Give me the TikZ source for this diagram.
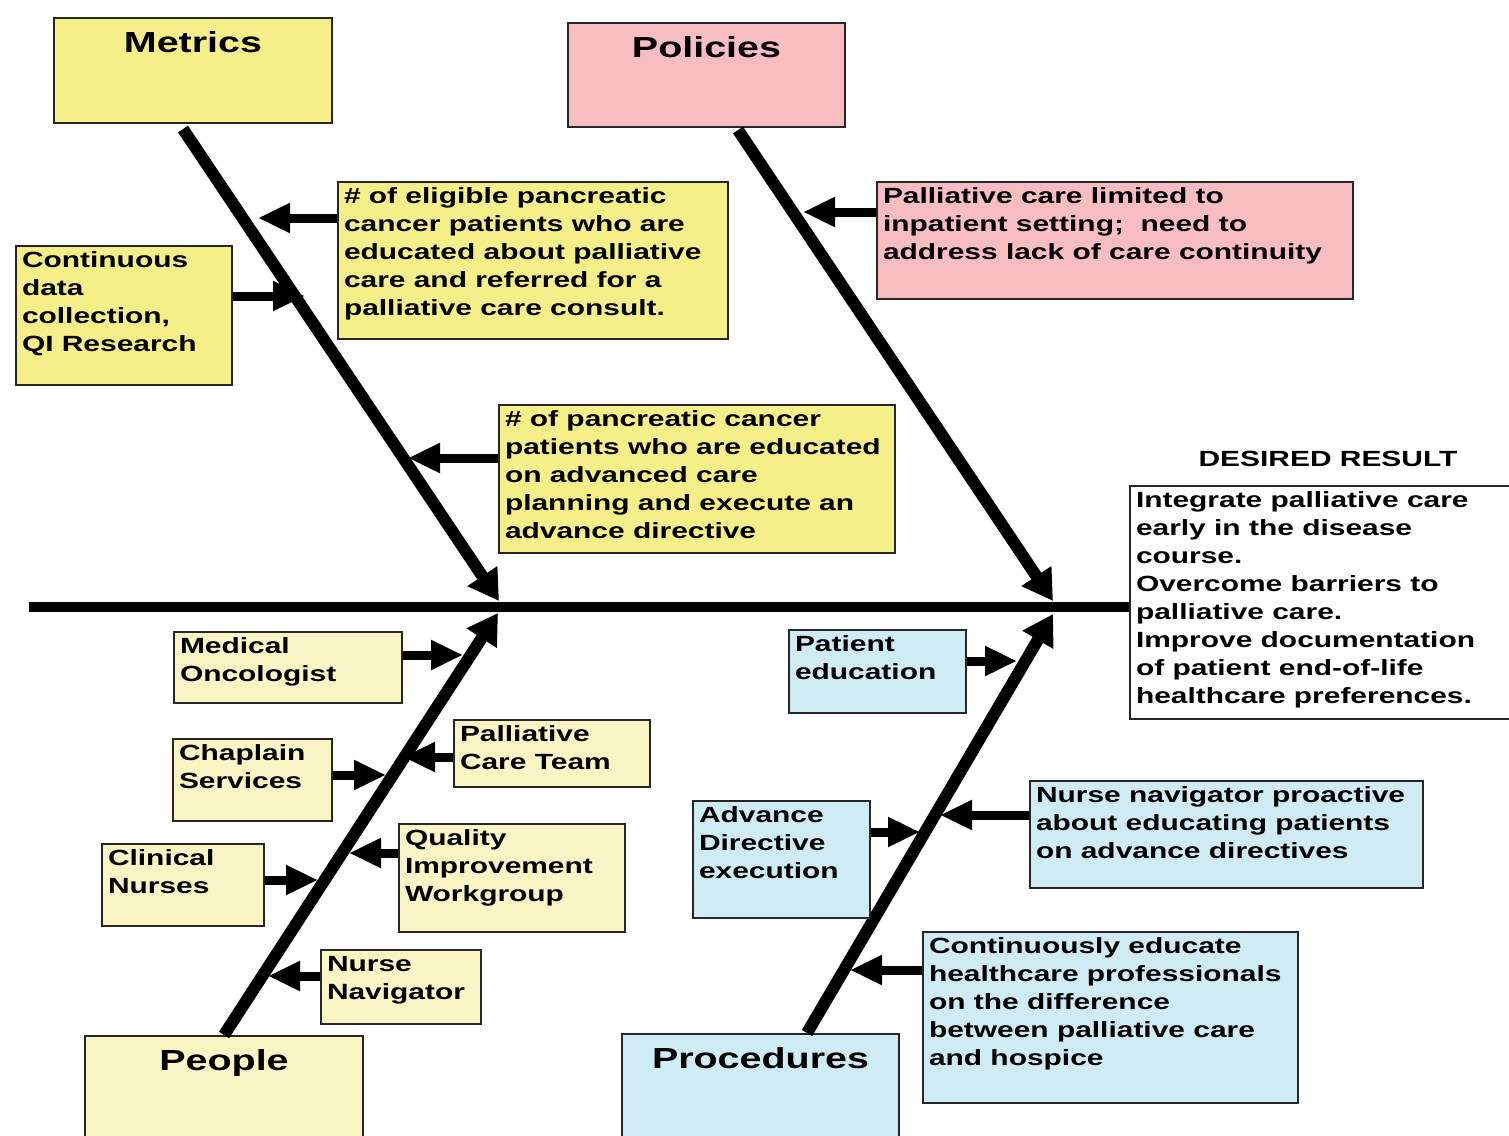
\documentclass[tikz,border=0pt]{standalone}
\usepackage{fontspec}
\setmainfont{Liberation Sans}[FakeStretch=1.36]
\usepackage{tikz}
\usetikzlibrary{arrows.meta}

\definecolor{metricsyellow}{HTML}{F4EF88}
\definecolor{peopleyellow}{HTML}{F9F5C4}
\definecolor{policypink}{HTML}{F8BDC0}
\definecolor{procblue}{HTML}{CFEBF4}

\begin{document}
\begin{tikzpicture}[x=0.5pt, y=-0.5pt,
    box/.style={draw=black!85, line width=1pt, anchor=north west, inner sep=3pt,
        font=\fontsize{11}{14}\selectfont\bfseries},
    headbox/.style={box, font=\fontsize{14.5}{20}\selectfont\bfseries},
    bone/.style={line width=6pt, -{Triangle[length=15pt,width=17pt]}},
    twig/.style={line width=4.5pt, -{Triangle[length=16pt,width=14pt]}}]

\useasboundingbox (0,0) rectangle (1509,1135);

\node[headbox, fill=metricsyellow] (metrics) at (53,17)
    {\parbox[t][46.5pt][t]{133pt}{\centering\strut Metrics}};
\node[headbox, fill=policypink] (policies) at (567,22)
    {\parbox[t][46pt][t]{132.5pt}{\centering\strut Policies}};
\node[headbox, fill=peopleyellow] (people) at (84,1035)
    {\parbox[t][49pt][t]{133pt}{\centering\strut People}};
\node[headbox, fill=procblue] (procedures) at (621,1033)
    {\parbox[t][50pt][t]{132.5pt}{\centering\strut Procedures}};

\node[box, fill=white] (result) at (1129,485)
    {\parbox[t][110.5pt][t]{187pt}{\raggedright Integrate palliative care\\ early in the disease\\ course.\\
    Overcome barriers to\\ palliative care.\\ Improve documentation\\ of patient end-of-life\\ healthcare preferences.}};
\node[font=\fontsize{11}{14}\selectfont\bfseries] (resultlabel) at (1328,459) {DESIRED RESULT};

\coordinate (tail) at (29,607);
\draw[line width=5pt] (tail) -- (tail -| result.west);

\coordinate (mtip) at (499,601);
\coordinate (ptip) at (1053,601);
\coordinate (qtip) at (498,613);
\coordinate (rtip) at (1053,614);

\draw[bone] ([xshift=-5pt,yshift=-2.5pt]metrics.south) -- (mtip);
\draw[bone] ([xshift=15.75pt,yshift=-1pt]policies.south) -- (ptip);
\draw[bone] (people.north) -- (qtip);
\draw[bone] ([xshift=23.25pt]procedures.north) -- (rtip);

\node[box, fill=metricsyellow] (eligible) at (337,181)
    {\parbox[t][72.5pt][t]{189pt}{\raggedright \# of eligible pancreatic\\ cancer patients who are\\ educated about palliative\\ care and referred for a\\ palliative care consult.}};
\node[box, fill=metricsyellow] (datacoll) at (15,245)
    {\parbox[t][63.5pt][t]{102pt}{\raggedright Continuous\\ data\\ collection,\\ QI Research}};
\node[box, fill=metricsyellow] (directive) at (498,404)
    {\parbox[t][68pt][t]{192pt}{\raggedright \# of pancreatic cancer\\ patients who are educated\\ on advanced care\\ planning and execute an\\ advance directive}};

\node[box, fill=policypink] (inpatient) at (876,181)
    {\parbox[t][52.5pt][t]{232pt}{\raggedright Palliative care limited to\\ inpatient setting;\ \ need to\\ address lack of care continuity}};

\node[box, fill=peopleyellow] (oncologist) at (173,631)
    {\parbox[t][29.5pt][t]{108pt}{\raggedright Medical\\ Oncologist}};
\node[box, fill=peopleyellow] (chaplain) at (172,738)
    {\parbox[t][35pt][t]{73.5pt}{\raggedright Chaplain\\ Services}};
\node[box, fill=peopleyellow] (pcteam) at (453,719)
    {\parbox[t][27.5pt][t]{92pt}{\raggedright Palliative\\ Care Team}};
\node[box, fill=peopleyellow] (clinical) at (101,843)
    {\parbox[t][35pt][t]{75pt}{\raggedright Clinical\\ Nurses}};
\node[box, fill=peopleyellow] (qiwork) at (398,823)
    {\parbox[t][48pt][t]{107pt}{\raggedright Quality\\ Improvement\\ Workgroup}};
\node[box, fill=peopleyellow] (navigator) at (320,949)
    {\parbox[t][31pt][t]{74pt}{\raggedright Nurse\\ Navigator}};

\node[box, fill=procblue] (pateduc) at (788,629)
    {\parbox[t][35.5pt][t]{82.5pt}{\raggedright Patient\\ education}};
\node[box, fill=procblue] (adexec) at (692,800)
    {\parbox[t][52.5pt][t]{82.5pt}{\raggedright Advance\\ Directive\\ execution}};
\node[box, fill=procblue] (proactive) at (1029,780)
    {\parbox[t][47.5pt][t]{190.5pt}{\raggedright Nurse navigator proactive\\ about educating patients\\ on advance directives}};
\node[box, fill=procblue] (hospice) at (922,931)
    {\parbox[t][79.5pt][t]{181.5pt}{\raggedright Continuously educate\\ healthcare professionals\\ on the difference\\ between palliative care\\ and hospice}};

\coordinate (m1) at (258,218);
\coordinate (m2) at (305,296);
\coordinate (m3) at (408,458);
\coordinate (p1) at (803,212);
\coordinate (q1) at (463,655);
\coordinate (q2) at (386,775);
\coordinate (q3) at (403,757);
\coordinate (q4) at (318,880);
\coordinate (q5) at (349,853);
\coordinate (q6) at (268,976);
\coordinate (r1) at (1017,661);
\coordinate (r2) at (920,832);
\coordinate (r3) at (940,815);
\coordinate (r4) at (850,970);

\draw[twig] (eligible.west |- m1) -- (m1);
\draw[twig] (datacoll.east |- m2) -- (m2);
\draw[twig] (directive.west |- m3) -- (m3);
\draw[twig] (inpatient.west |- p1) -- (p1);
\draw[twig] (oncologist.east |- q1) -- (q1);
\draw[twig] (chaplain.east |- q2) -- (q2);
\draw[twig] (pcteam.west |- q3) -- (q3);
\draw[twig] (clinical.east |- q4) -- (q4);
\draw[twig] (qiwork.west |- q5) -- (q5);
\draw[twig] (navigator.west |- q6) -- (q6);
\draw[twig] (pateduc.east |- r1) -- (r1);
\draw[twig] (adexec.east |- r2) -- (r2);
\draw[twig] (proactive.west |- r3) -- (r3);
\draw[twig] (hospice.west |- r4) -- (r4);

\end{tikzpicture}
\end{document}
